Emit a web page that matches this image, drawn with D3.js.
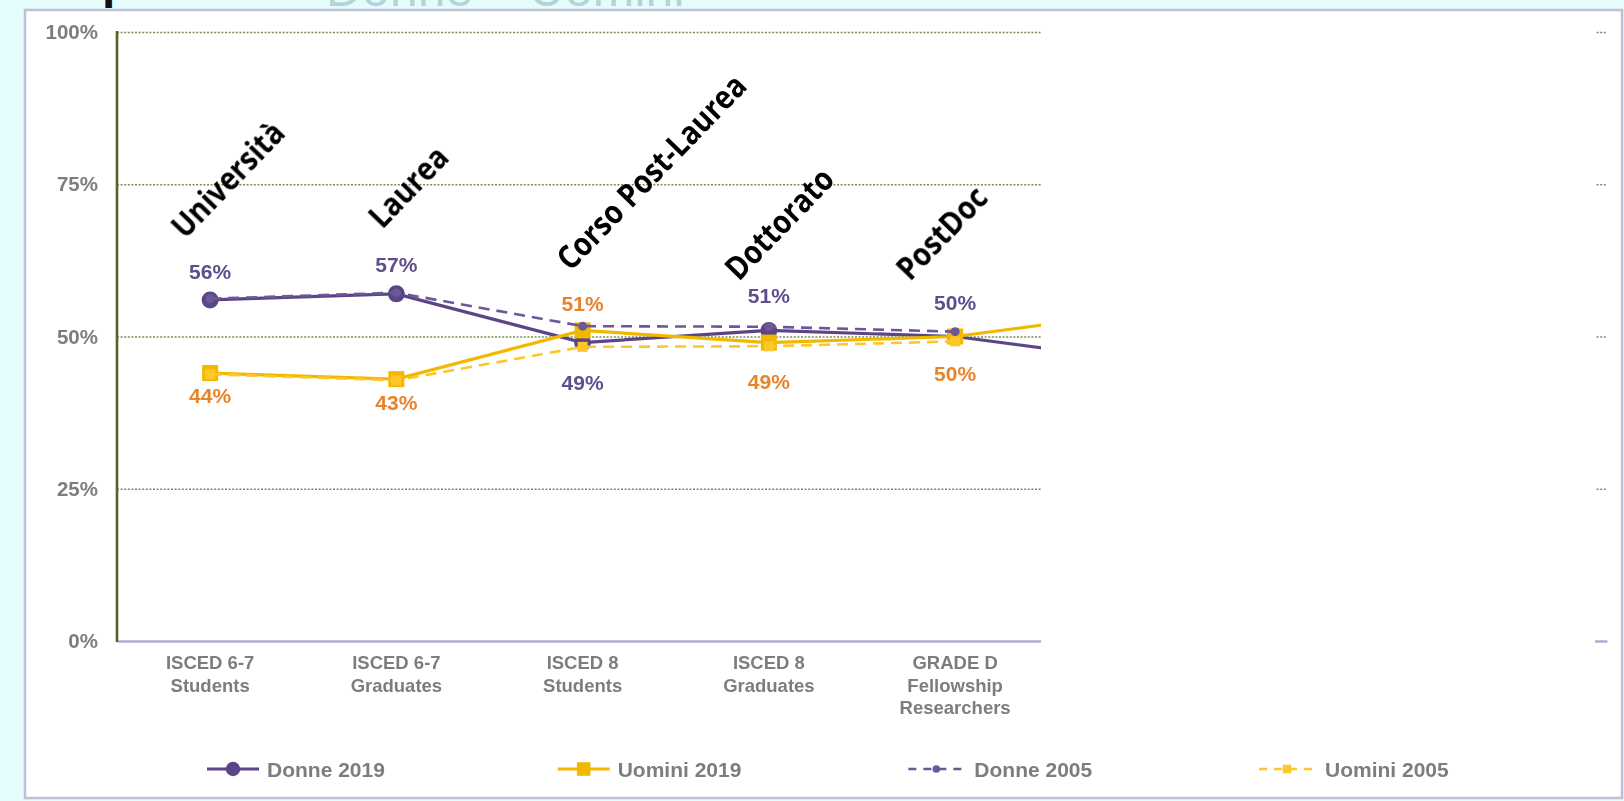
<!DOCTYPE html>
<html>
<head>
<meta charset="utf-8">
<script src="https://cdn.jsdelivr.net/npm/d3@7"></script>
<style>
  html, body { margin: 0; padding: 0; background: #e5fcfd; }
  svg { display: block; }
</style>
</head>
<body>
<svg id="chart" width="1624" height="801"></svg>
<script>
// ---- data ----
const categories = [
  ["ISCED 6-7", "Students"],
  ["ISCED 6-7", "Graduates"],
  ["ISCED 8", "Students"],
  ["ISCED 8", "Graduates"],
  ["GRADE D", "Fellowship", "Researchers"],
  ["GRADE C", "Researchers"],
  ["GRADE B", "Associate", "Professors"],
  ["GRADE A", "Full", "Professors"]
];
const donne2019  = [56, 57, 49, 51, 50, 46, null, null];
const uomini2019 = [44, 43, 51, 49, 50, 54, null, null];
const donne2005  = [56.2, 57.2, 51.7, 51.6, 50.8, null, null, null];
const uomini2005 = [43.8, 42.8, 48.3, 48.4, 49.2, null, null, null];
const labelledCount = 5;
const yTicks = [0, 25, 50, 75, 100];
const stageNames = ["Università", "Laurea", "Corso Post-Laurea", "Dottorato", "PostDoc"];
const legendNames = ["Donne 2019", "Uomini 2019", "Donne 2005", "Uomini 2005"];

// ---- layout ----
const W = 1624, H = 801;
const plot = { left: 117, right: 1607, top: 32, bottom: 641 };
const maskLeft = 1041, maskRight = 1595;
const labelGapAbove = [28, 29, 27, 35, 34];
const labelGapBelow = [22, 23, 40, 39, 37];
const stageAnchor = [[-25, 240], [-14, 230], [-12, 272], [-30, 282], [-45, 282]];

const PURPLE = "#5b4587", PURPLE_LIGHT = "#6a5998";
const GOLD = "#f2b800", GOLD_LIGHT = "#ffc629";
const PURPLE_TEXT = "#5f4d8d", ORANGE_TEXT = "#e8832c";
const GREY_TEXT = "#7d7d7d";
const FONT = "'Liberation Sans', Arial, sans-serif";

const svg = d3.select("#chart");
const defs = svg.append("defs");
defs.append("filter").attr("id", "soft")
  .attr("x", "-2%").attr("y", "-2%").attr("width", "104%").attr("height", "104%")
  .append("feGaussianBlur").attr("stdDeviation", 0.75);

// page background and slide title strip
svg.append("rect").attr("width", W).attr("height", H).attr("fill", "#e5fcfd");
svg.append("text").attr("x", 38).attr("y", -2)
  .attr("font-family", FONT).attr("font-weight", "bold").attr("font-size", 48)
  .attr("fill", "#111").text("Gap");
svg.append("text").attr("x", 326).attr("y", 6)
  .attr("font-family", FONT).attr("font-size", 50)
  .attr("fill", "#b4d3d9").text("Donne – Uomini");

// white chart panel
svg.append("rect").attr("x", 25).attr("y", 10).attr("width", 1597).attr("height", 788)
  .attr("fill", "#fff").attr("stroke", "#bfbfd8").attr("stroke-width", 2.5);

const g = svg.append("g").attr("filter", "url(#soft)");

// ---- scales ----
const x = d3.scaleBand().domain(d3.range(categories.length)).range([plot.left, plot.right]);
const cx = i => x(i) + x.bandwidth() / 2;
const y = d3.scaleLinear().domain([0, 100]).range([plot.bottom, plot.top]);

// ---- y axis with gridlines ----
const yAxis = d3.axisLeft(y).tickValues(yTicks).tickFormat(d => d + "%")
  .tickSize(-(plot.right - plot.left)).tickPadding(19);
const ya = g.append("g").attr("transform", `translate(${plot.left},0)`).call(yAxis);
ya.select(".domain").remove();
ya.selectAll(".tick line")
  .attr("stroke", "#7e8b56").attr("stroke-width", 1.3).attr("stroke-dasharray", "2,1.6")
  .filter(d => d === 0).remove();
ya.selectAll(".tick text")
  .attr("font-family", FONT).attr("font-weight", "bold").attr("font-size", 20.5)
  .attr("fill", GREY_TEXT);

// ---- x axis (category baseline and labels) ----
const xAxis = d3.axisBottom(x).tickSize(0).tickFormat("");
const xa = g.append("g").attr("transform", `translate(0,${plot.bottom})`).call(xAxis);
xa.select(".domain").attr("stroke", "#adadd0").attr("stroke-width", 2.5);
xa.selectAll(".tick text").each(function (i) {
  const t = d3.select(this).attr("y", 0).attr("dy", null)
    .attr("font-family", FONT).attr("font-weight", "bold").attr("font-size", 18.5)
    .attr("fill", GREY_TEXT);
  categories[i].forEach((line, k) => {
    t.append("tspan").attr("x", 0).attr("y", 28 + k * 22.5).text(line);
  });
});

// left axis line
g.append("line")
  .attr("x1", plot.left).attr("x2", plot.left)
  .attr("y1", y(100) - 1).attr("y2", y(0) + 1)
  .attr("stroke", "#4f6626").attr("stroke-width", 2.6);

// ---- series ----
const series = [
  { name: legendNames[0], values: donne2019,  color: PURPLE,       dash: null,   width: 3.2, shape: "circle", size: 8.5 },
  { name: legendNames[1], values: uomini2019, color: GOLD,         dash: null,   width: 3.2, shape: "square", size: 16 },
  { name: legendNames[2], values: donne2005,  color: PURPLE_LIGHT, dash: "11,7", width: 2.6, shape: "circle", size: 4.5 },
  { name: legendNames[3], values: uomini2005, color: GOLD_LIGHT,   dash: "11,7", width: 2.6, shape: "square", size: 10 }
];

const line = d3.line().defined(d => d != null).x((d, i) => cx(i)).y(d => y(d));

function drawMarker(sel, s, px, py, scale) {
  const k = scale || 1;
  if (s.shape === "circle") {
    sel.append("circle").attr("cx", px).attr("cy", py).attr("r", s.size * k).attr("fill", s.color);
  } else {
    const a = s.size * k;
    sel.append("rect").attr("x", px - a / 2).attr("y", py - a / 2)
      .attr("width", a).attr("height", a).attr("fill", s.color);
  }
}

series.forEach(s => {
  const sg = g.append("g");
  sg.append("path").datum(s.values).attr("d", line)
    .attr("fill", "none").attr("stroke", s.color).attr("stroke-width", s.width)
    .attr("stroke-dasharray", s.dash);
  s.values.forEach((v, i) => { if (v != null) drawMarker(sg, s, cx(i), y(v)); });
});

// ---- value labels for the 2019 series ----
const lg = g.append("g").attr("font-family", FONT).attr("font-weight", "bold")
  .attr("font-size", 21).attr("text-anchor", "middle").attr("dominant-baseline", "central");
d3.range(labelledCount).forEach(i => {
  const d = donne2019[i], u = uomini2019[i];
  const donneUp = d >= u;
  lg.append("text").attr("x", cx(i))
    .attr("y", donneUp ? y(d) - labelGapAbove[i] : y(d) + labelGapBelow[i])
    .attr("fill", PURPLE_TEXT).text(d + "%");
  lg.append("text").attr("x", cx(i))
    .attr("y", donneUp ? y(u) + labelGapBelow[i] : y(u) - labelGapAbove[i])
    .attr("fill", ORANGE_TEXT).text(u + "%");
});

// ---- legend ----
const legendY = 769;
const lx = d3.scalePoint().domain(legendNames).range([207, 1259]);
series.forEach(s => {
  const dashed = !!s.dash;
  const len = dashed ? 56 : 52;
  const lgItem = g.append("g").attr("transform", `translate(${lx(s.name)},${legendY})`);
  lgItem.append("line").attr("x1", 0).attr("x2", len).attr("y1", 0).attr("y2", 0)
    .attr("stroke", s.color).attr("stroke-width", s.width)
    .attr("stroke-dasharray", dashed ? "8,7" : null);
  drawMarker(lgItem, s, len / 2, 0, 0.85);
  lgItem.append("text").attr("x", dashed ? 66 : 60).attr("y", 0).attr("dominant-baseline", "central")
    .attr("font-family", FONT).attr("font-weight", "bold").attr("font-size", 21)
    .attr("fill", GREY_TEXT).text(s.name);
});

// ---- blank area over the later career grades ----
svg.append("rect").attr("x", maskLeft).attr("y", 14)
  .attr("width", maskRight - maskLeft).attr("height", 736).attr("fill", "#fff");

// ---- stage names written over the chart ----
const sg2 = svg.append("g").attr("font-family", "'Open Sans', sans-serif")
  .attr("font-weight", "bold").attr("font-size", 32.5).attr("fill", "#000");
stageNames.forEach((name, i) => {
  const px = cx(i) + stageAnchor[i][0], py = stageAnchor[i][1];
  sg2.append("text").attr("transform", `translate(${px},${py}) rotate(-46) scale(0.87,1)`).text(name);
});
</script>
</body>
</html>
